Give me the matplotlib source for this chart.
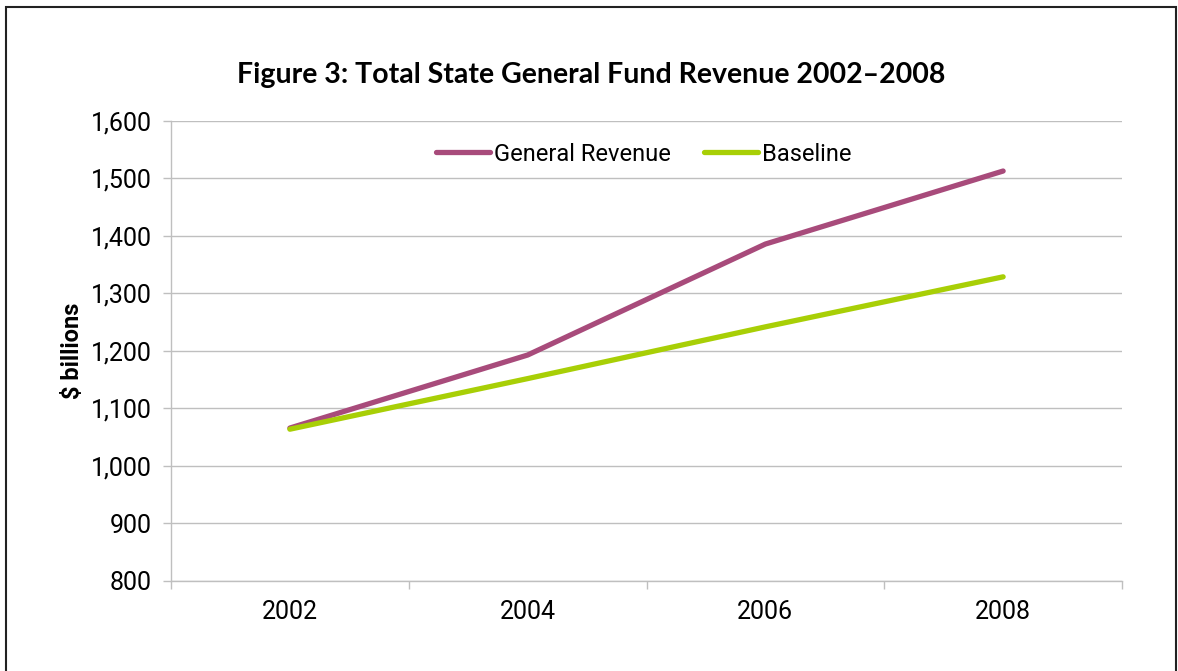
import matplotlib
matplotlib.use("Agg")
import matplotlib.pyplot as plt
from matplotlib.patches import Rectangle
from matplotlib import font_manager

years = ["2002", "2004", "2006", "2008"]
general_revenue = [1066, 1193, 1386, 1513]
baseline = [1064, 1152, 1242, 1329]
y_ticks = [800, 900, 1000, 1100, 1200, 1300, 1400, 1500, 1600]

names = {f.name for f in font_manager.fontManager.ttflist}
narrow = "Liberation Sans Narrow" if "Liberation Sans Narrow" in names else "Roboto"

purple = "#A84B7B"
green = "#A8CF06"
grid_gray = "#BFBFBF"

fig = plt.figure(figsize=(11.78, 6.71), dpi=100)
fig.patch.set_facecolor("white")

# outer frame
frame = Rectangle((6 / 1178, -0.05), 1170 / 1178, 1.05 - 7 / 671,
                  transform=fig.transFigure, fill=False,
                  edgecolor="#222222", linewidth=1.5)
fig.add_artist(frame)

ax = fig.add_axes([171 / 1178, 1 - 581 / 671, 951 / 1178, 460 / 671])
x = list(range(len(years)))

ax.plot(x, general_revenue, color=purple, lw=3.8, solid_capstyle="round",
        solid_joinstyle="round", label="General Revenue", zorder=3)
ax.plot(x, baseline, color=green, lw=3.8, solid_capstyle="round",
        solid_joinstyle="round", label="Baseline", zorder=3)

ax.set_xlim(-0.5, len(years) - 0.5)
ax.set_ylim(800, 1600)
ax.set_yticks(y_ticks)
ax.set_yticklabels([f"{v:,}" for v in y_ticks], fontfamily=narrow, fontsize=18)
ax.set_xticks(x)
ax.set_xticklabels(years, fontfamily=narrow, fontsize=18)
ax.set_xticks([i - 0.5 for i in range(len(years) + 1)], minor=True)
ax.tick_params(axis="x", which="major", length=0, pad=14)
ax.tick_params(axis="x", which="minor", length=6, color=grid_gray, width=1)
ax.tick_params(axis="y", length=6, color=grid_gray, width=1, pad=8)

ax.grid(axis="y", color=grid_gray, lw=1)
ax.set_axisbelow(True)
for s in ("top", "right"):
    ax.spines[s].set_visible(False)
for s in ("left", "bottom"):
    ax.spines[s].set_color(grid_gray)
    ax.spines[s].set_linewidth(1)

ax.set_ylabel("$ billions", fontfamily=narrow, fontweight="bold", fontsize=17,
              labelpad=5)

leg = ax.legend(loc="center", bbox_to_anchor=(0.497, 0.928), ncol=2,
                frameon=False, prop={"family": narrow, "size": 17},
                handlelength=2.3, handletextpad=0.15, columnspacing=1.4)

fig.text(0.502, 1 - 75 / 671, "Figure 3: Total State General Fund Revenue 2002\u20132008",
         ha="center", va="center", fontfamily="Lato", fontweight="bold",
         fontsize=20.5)

fig.savefig("out.png", dpi=100)
